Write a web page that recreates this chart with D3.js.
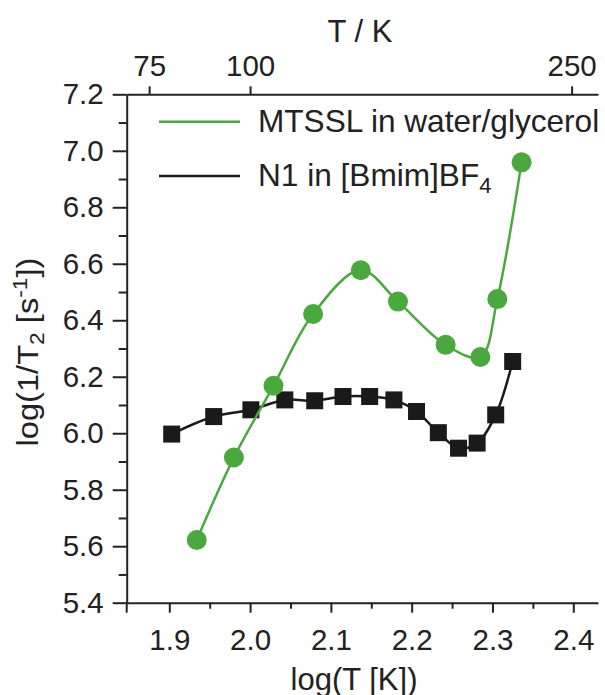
<!DOCTYPE html>
<html>
<head>
<meta charset="utf-8">
<script src="https://cdn.jsdelivr.net/npm/d3@7"></script>
<style>
  body { margin: 0; background: #fff; }
  text { font-family: 'Liberation Sans', Arial, sans-serif; fill: #222; }
  .axis path, .axis line { stroke: #222; stroke-width: 2; }
</style>
</head>
<body>
<div class="visHolder"></div>
<script>
// MTSSL in water/glycerol (green)
const mtsslLogT = [1.934, 1.980, 2.029, 2.078, 2.137, 2.183, 2.242, 2.285, 2.306, 2.336]
const mtsslRate = [5.622, 5.914, 6.168, 6.422, 6.577, 6.466, 6.313, 6.270, 6.475, 6.959]

// N1 in [Bmim]BF4 (black)
const n1LogT = [1.903, 1.955, 2.001, 2.043, 2.080, 2.115, 2.148, 2.178, 2.206, 2.233, 2.258, 2.281, 2.304, 2.325]
const n1Rate = [5.997, 6.059, 6.083, 6.118, 6.115, 6.130, 6.130, 6.118, 6.077, 6.002, 5.947, 5.965, 6.065, 6.254]

const xTicks = [1.9, 2.0, 2.1, 2.2, 2.3, 2.4]
const xMinorTicks = [1.95, 2.05, 2.15, 2.25, 2.35]
const yTicks = [5.4, 5.6, 5.8, 6.0, 6.2, 6.4, 6.6, 6.8, 7.0, 7.2]
const yMinorTicks = [5.5, 5.7, 5.9, 6.1, 6.3, 6.5, 6.7, 6.9, 7.1]
const topTicks = [75, 100, 250]

const width = 605
const height = 695
const plotLeft = 126.7
const plotRight = 598
const plotTop = 94.3
const plotBottom = 602.7
const green = '#4aa83f'
const black = '#1a1a1a'

const svg = d3.select('.visHolder')
    .append('svg')
    .attr('width', width)
    .attr('height', height)

const xScale = d3.scaleLinear()
    .domain([1.8473, 2.4306])
    .range([plotLeft, plotRight])

const topScale = d3.scaleLog()
    .domain([Math.pow(10, 1.8473), Math.pow(10, 2.4306)])
    .range([plotLeft, plotRight])

const yScale = d3.scaleLinear()
    .domain([5.4, 7.2])
    .range([plotBottom, plotTop])

// axes
svg.append('g')
    .attr('class', 'axis')
    .attr('transform', `translate(0, ${plotBottom})`)
    .call(d3.axisBottom(xScale).tickValues(xMinorTicks).tickSize(6).tickFormat(''))
    .call(g => g.select('.domain').remove())

svg.append('g')
    .attr('class', 'axis')
    .attr('transform', `translate(0, ${plotBottom})`)
    .call(d3.axisBottom(xScale).tickValues(xTicks).tickSize(10).tickSizeOuter(0).tickPadding(16).tickFormat(d3.format('.1f')))
    .call(g => g.selectAll('text').attr('font-size', 29.5))

svg.append('g')
    .attr('class', 'axis')
    .attr('transform', `translate(0, ${plotTop})`)
    .call(d3.axisTop(topScale).tickValues(topTicks).tickSize(8).tickSizeOuter(0).tickPadding(10).tickFormat(d3.format('d')))
    .call(g => g.selectAll('text').attr('font-size', 29.5))

svg.append('g')
    .attr('class', 'axis')
    .attr('transform', `translate(${plotLeft}, 0)`)
    .call(d3.axisLeft(yScale).tickValues(yMinorTicks).tickSize(8).tickFormat(''))
    .call(g => g.select('.domain').remove())

svg.append('g')
    .attr('class', 'axis')
    .attr('transform', `translate(${plotLeft}, 0)`)
    .call(d3.axisLeft(yScale).tickValues(yTicks).tickSize(14).tickSizeOuter(0).tickPadding(9).tickFormat(d3.format('.1f')))
    .call(g => g.selectAll('text').attr('font-size', 29.5))

// y axis runs a little past the x axis
svg.append('line')
    .attr('x1', plotLeft).attr('x2', plotLeft)
    .attr('y1', plotBottom).attr('y2', plotBottom + 10)
    .attr('stroke', '#222')
    .attr('stroke-width', 2)

svg.selectAll('.axis text').style('fill', '#222')

// axis titles
svg.append('text')
    .attr('x', 360)
    .attr('y', 42)
    .attr('text-anchor', 'middle')
    .attr('font-size', 31)
    .text('T / K')

svg.append('text')
    .attr('x', 354)
    .attr('y', 690)
    .attr('text-anchor', 'middle')
    .attr('font-size', 31)
    .text('log(T [K])')

const yLabel = svg.append('text')
    .attr('text-anchor', 'middle')
    .attr('font-size', 30)
yLabel.append('tspan').text('log(1/T')
yLabel.append('tspan').attr('font-size', 21).attr('dy', 6).text('2')
yLabel.append('tspan').attr('dy', -6).text(' [s')
yLabel.append('tspan').attr('font-size', 21).attr('dy', -11).text('-1')
yLabel.append('tspan').attr('dy', 11).text('])')
// the original label is squeezed along its length
const squeeze = 189 / yLabel.node().getComputedTextLength()
yLabel.attr('transform', `translate(38, 352) rotate(-90) scale(${squeeze}, 1)`)

// lines
const line = d3.line()
    .x(d => xScale(d[0]))
    .y(d => yScale(d[1]))
    .curve(d3.curveCatmullRom.alpha(0.5))

const mtsslPts = mtsslLogT.map((t, i) => [t, mtsslRate[i]])
const n1Pts = n1LogT.map((t, i) => [t, n1Rate[i]])

svg.append('path')
    .datum(n1Pts)
    .attr('d', line)
    .attr('fill', 'none')
    .attr('stroke', black)
    .attr('stroke-width', 2.5)

svg.selectAll('rect.n1')
    .data(n1Pts)
    .enter()
    .append('rect')
    .attr('class', 'n1')
    .attr('x', d => xScale(d[0]) - 8.5)
    .attr('y', d => yScale(d[1]) - 8.5)
    .attr('width', 17)
    .attr('height', 17)
    .attr('fill', black)

svg.append('path')
    .datum(mtsslPts)
    .attr('d', line)
    .attr('fill', 'none')
    .attr('stroke', green)
    .attr('stroke-width', 2.5)

svg.selectAll('circle.mtssl')
    .data(mtsslPts)
    .enter()
    .append('circle')
    .attr('class', 'mtssl')
    .attr('cx', d => xScale(d[0]))
    .attr('cy', d => yScale(d[1]))
    .attr('r', 10)
    .attr('fill', green)

// legend
svg.append('line')
    .attr('x1', 159).attr('x2', 240)
    .attr('y1', 121.7).attr('y2', 121.7)
    .attr('stroke', green)
    .attr('stroke-width', 2.5)

svg.append('text')
    .attr('x', 258)
    .attr('y', 131.7)
    .attr('font-size', 31.6)
    .text('MTSSL in water/glycerol')

svg.append('line')
    .attr('x1', 159).attr('x2', 240)
    .attr('y1', 176).attr('y2', 176)
    .attr('stroke', black)
    .attr('stroke-width', 2.5)

const n1Label = svg.append('text')
    .attr('x', 258)
    .attr('y', 186)
    .attr('font-size', 31.6)
n1Label.append('tspan').text('N1 in [Bmim]BF')
n1Label.append('tspan').attr('font-size', 22).attr('dy', 7).text('4')
</script>
</body>
</html>
